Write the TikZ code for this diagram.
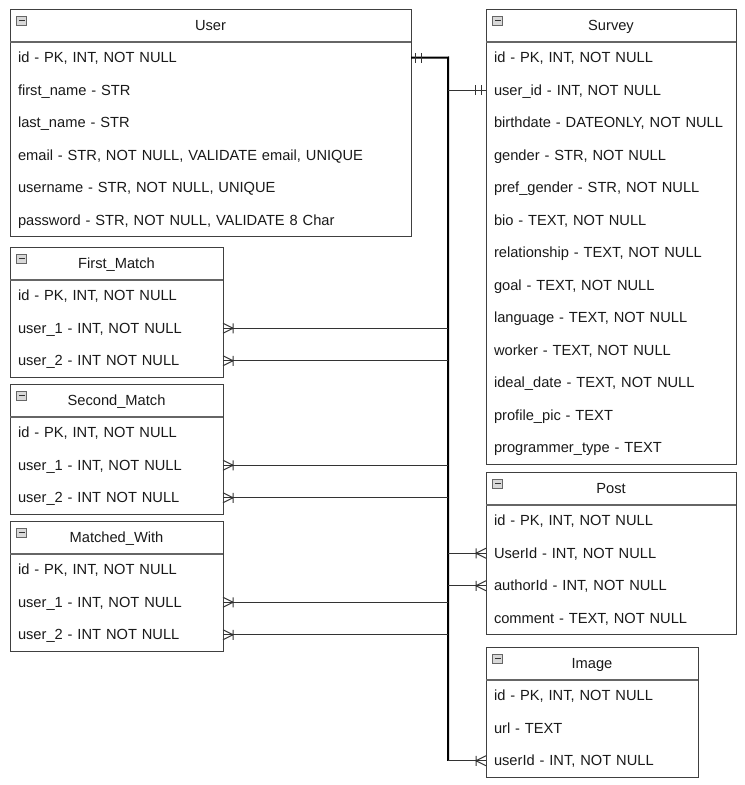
\documentclass[tikz,border=0pt]{standalone}
\usepackage{fontspec}
\setmainfont{Liberation Sans}
\usetikzlibrary{positioning}

\begin{document}
\begin{tikzpicture}[x=0.75pt, y=-0.75pt, node distance=0pt, every node/.style={font=\fontsize{11}{13}\selectfont, text=black!90, outer sep=0pt}, head/.style={minimum height=24.375pt, inner sep=0pt, text height=9pt, text depth=1.5pt, anchor=north west}, row/.style={minimum height=24.375pt, inner xsep=6pt, inner ysep=0pt, text height=9pt, text depth=1.5pt, align=left}, wide/.style={text width=288.75pt}, mid/.style={text width=175.5pt}, narrow/.style={text width=147.75pt}, frame/.style={draw=black!75, line width=0.75pt}, hsep/.style={draw=black!60, line width=1.5pt}, icon/.style={draw=black!60, fill=black!15, minimum width=7.5pt, minimum height=6.5pt, inner sep=0pt, anchor=north west, path picture={\draw[black!80, line width=0.9pt] ([xshift=1.6pt]path picture bounding box.west) -- ([xshift=-1.6pt]path picture bounding box.east);}}, trunk/.style={draw=black, line width=1.5pt}, link/.style={draw=black!80, line width=0.75pt}]
\useasboundingbox (0,0) rectangle (745,785);
% User
\node[head, minimum width=300.75pt] (user) at (10,9) {User};
\node[row, wide, below=of user] (user-id) {id - PK, INT, NOT NULL};
\node[row, wide, below=of user-id] (user-fn) {first\_name - STR};
\node[row, wide, below=of user-fn] (user-ln) {last\_name - STR};
\node[row, wide, below=of user-ln] (user-em) {email - STR, NOT NULL, VALIDATE email, UNIQUE};
\node[row, wide, below=of user-em] (user-un) {username - STR, NOT NULL, UNIQUE};
\node[row, wide, below=of user-un] (user-pw) {password - STR, NOT NULL, VALIDATE 8 Char};
% Survey
\node[head, minimum width=187.5pt] (survey) at (486,9) {Survey};
\node[row, mid, below=of survey] (sv-id) {id - PK, INT, NOT NULL};
\node[row, mid, below=of sv-id] (sv-uid) {user\_id - INT, NOT NULL};
\node[row, mid, below=of sv-uid] (sv-bd) {birthdate - DATEONLY, NOT NULL};
\node[row, mid, below=of sv-bd] (sv-gen) {gender - STR, NOT NULL};
\node[row, mid, below=of sv-gen] (sv-pg) {pref\_gender - STR, NOT NULL};
\node[row, mid, below=of sv-pg] (sv-bio) {bio - TEXT, NOT NULL};
\node[row, mid, below=of sv-bio] (sv-rel) {relationship - TEXT, NOT NULL};
\node[row, mid, below=of sv-rel] (sv-goal) {goal - TEXT, NOT NULL};
\node[row, mid, below=of sv-goal] (sv-lang) {language - TEXT, NOT NULL};
\node[row, mid, below=of sv-lang] (sv-work) {worker - TEXT, NOT NULL};
\node[row, mid, below=of sv-work] (sv-date) {ideal\_date - TEXT, NOT NULL};
\node[row, mid, below=of sv-date] (sv-pic) {profile\_pic - TEXT};
\node[row, mid, below=of sv-pic] (sv-type) {programmer\_type - TEXT};
% First_Match
\node[head, minimum width=159.75pt] (fm) at (10,247) {First\_Match};
\node[row, narrow, below=of fm] (fm-id) {id - PK, INT, NOT NULL};
\node[row, narrow, below=of fm-id] (fm-u1) {user\_1 - INT, NOT NULL};
\node[row, narrow, below=of fm-u1] (fm-u2) {user\_2 - INT NOT NULL};
% Second_Match
\node[head, minimum width=159.75pt] (sm) at (10,384) {Second\_Match};
\node[row, narrow, below=of sm] (sm-id) {id - PK, INT, NOT NULL};
\node[row, narrow, below=of sm-id] (sm-u1) {user\_1 - INT, NOT NULL};
\node[row, narrow, below=of sm-u1] (sm-u2) {user\_2 - INT NOT NULL};
% Matched_With
\node[head, minimum width=159.75pt] (mw) at (10,521) {Matched\_With};
\node[row, narrow, below=of mw] (mw-id) {id - PK, INT, NOT NULL};
\node[row, narrow, below=of mw-id] (mw-u1) {user\_1 - INT, NOT NULL};
\node[row, narrow, below=of mw-u1] (mw-u2) {user\_2 - INT NOT NULL};
% Post
\node[head, minimum width=187.5pt] (post) at (486,472) {Post};
\node[row, mid, below=of post] (post-id) {id - PK, INT, NOT NULL};
\node[row, mid, below=of post-id] (post-uid) {UserId - INT, NOT NULL};
\node[row, mid, below=of post-uid] (post-aid) {authorId - INT, NOT NULL};
\node[row, mid, below=of post-aid] (post-cm) {comment - TEXT, NOT NULL};
% Image
\node[head, minimum width=159pt] (img) at (486,647) {Image};
\node[row, text width=147pt, below=of img] (img-id) {id - PK, INT, NOT NULL};
\node[row, text width=147pt, below=of img-id] (img-url) {url - TEXT};
\node[row, text width=147pt, below=of img-url] (img-uid) {userId - INT, NOT NULL};
% frames and header icons
\foreach \e/\l in {user/user-pw, survey/sv-type, fm/fm-u2, sm/sm-u2, mw/mw-u2, post/post-cm, img/img-uid} {
  \draw[frame] (\e.north west) rectangle (\l.south east);
  \draw[hsep] (\e.south west) -- (\e.south east);
  \node[icon] (\e-ic) at ([xshift=5pt, yshift=-5.5pt]\e.north west) {};
}
% relations
\coordinate (trunk) at (448,57.5);
\draw[trunk] (user-id.east) -- (trunk) -- (trunk |- img-uid);
\foreach \n/\a in {sv-uid/west, fm-u1/east, fm-u2/east, sm-u1/east, sm-u2/east, mw-u1/east, mw-u2/east, post-uid/west, post-aid/west, img-uid/west}
  \draw[link] (trunk |- \n) -- (\n.\a);
% one and only one
\foreach \n/\a/\s in {user-id/east/1, sv-uid/west/-1}
  \foreach \d in {3.4pt, 7.8pt}
    \draw[link] ([xshift=\s*\d, yshift=3.75pt]\n.\a) -- ([xshift=\s*\d, yshift=-3.75pt]\n.\a);
% one or many
\foreach \n/\a/\s in {fm-u1/east/1, fm-u2/east/1, sm-u1/east/1, sm-u2/east/1, mw-u1/east/1, mw-u2/east/1, post-uid/west/-1, post-aid/west/-1, img-uid/west/-1}
  \draw[link] ([yshift=3.75pt]\n.\a) -- ([xshift=\s*7.5pt]\n.\a) -- ([yshift=-3.75pt]\n.\a) ([xshift=\s*7.5pt, yshift=3.75pt]\n.\a) -- ([xshift=\s*7.5pt, yshift=-3.75pt]\n.\a);
\end{tikzpicture}
\end{document}
